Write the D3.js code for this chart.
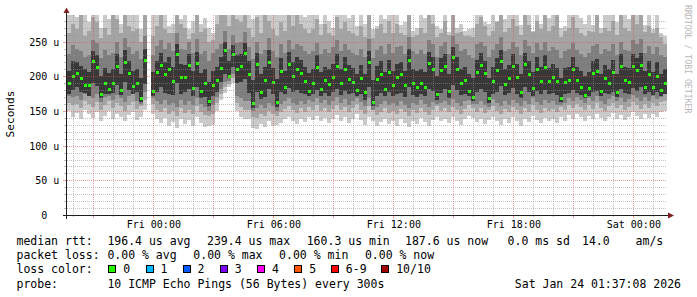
<!DOCTYPE html>
<html>
<head>
<meta charset="utf-8">
<script src="https://cdn.jsdelivr.net/npm/d3@7"></script>
<style>
  body { margin: 0; background: #fff; }
  text { font-family: "DejaVu Sans Mono", monospace; }
</style>
</head>
<body>
<svg id="chart" width="697" height="297"></svg>
<script>
// time range of the graph, one column per 12 minutes
const start = new Date(2026, 0, 22, 19, 41);
const end = new Date(2026, 0, 24, 1, 41);
const stepMin = 12;

// median rtt per column (us), null = no data
const med = [
  190,201,205,197,188,187,222,213,175,190,181,190,215,180,221,205,186,191,168,223,
  null,179,206,216,204,210,193,232,199,199,216,183,219,179,190,164,187,195,212,238,
  201,232,211,215,233,204,161,218,178,194,221,192,163,208,185,218,201,211,205,193,
  179,190,213,181,194,189,199,215,190,210,196,192,180,197,178,221,163,196,204,182,
  206,187,199,203,187,224,190,185,191,185,219,211,175,209,215,179,228,210,190,194,
  179,170,206,216,205,168,193,209,222,189,197,215,199,178,218,204,183,211,193,213,
  193,199,193,168,192,194,211,194,185,173,183,205,207,179,197,190,206,178,215,194,
  192,215,209,217,185,204,185,201,180,190
];

// smoke: sorted ping pairs, outermost (lo1/hi1) to innermost (lo4/hi4)
const lo1 = [
  150,142,147,138,152,145,140,148,136,143,150,139,146,141,135,144,149,137,142,151,
  null,145,138,132,140,128,134,126,139,131,137,129,142,133,127,128,130,150,166,176,
  184,190,150,142,138,138,126,124,131,127,135,129,130,133,138,142,136,131,139,134,
  141,137,143,135,140,132,138,144,136,141,133,139,145,137,130,142,136,128,134,139,
  131,135,129,138,133,127,136,131,140,134,128,137,142,135,139,133,141,136,130,138,
  143,140,134,139,131,137,142,135,130,138,133,141,136,129,139,134,143,137,132,140,
  135,138,133,141,136,144,139,145,141,136,143,138,146,140,135,142,147,139,144,137,
  141,148,143,138,145,140,146,142,149,150
];
const hi1 = [
  300,300,285,300,300,278,300,300,270,300,282,300,300,275,300,300,290,300,268,300,
  null,300,288,300,300,272,276,300,282,290,268,280,300,276,284,270,262,300,300,300,
  300,300,300,300,300,300,282,300,300,300,300,290,300,300,300,300,300,300,300,286,
  300,300,300,276,300,280,270,300,300,300,284,300,272,300,276,300,268,272,300,282,
  300,300,300,274,278,300,266,270,300,284,300,300,272,268,300,264,300,270,276,266,
  268,270,300,300,278,276,300,280,300,282,300,300,300,274,300,300,266,300,276,300,
  284,300,300,270,272,300,300,300,284,276,300,274,300,270,300,288,300,278,300,300,
  282,300,300,300,274,300,268,300,262,258
];
const lo2 = [
  162,158,160,155,165,160,156,163,152,158,164,155,161,157,150,159,163,153,157,166,
  null,160,152,148,155,145,150,143,154,147,152,146,157,149,144,143,146,162,174,184,
  189,197,162,156,152,152,142,140,146,143,150,145,143,148,153,157,151,147,154,149,
  156,152,158,150,155,148,153,159,151,156,148,154,160,152,146,157,151,144,149,154,
  147,150,145,153,148,143,151,147,155,149,144,152,157,150,154,148,156,151,146,153,
  158,155,149,154,147,152,157,150,146,153,148,156,151,145,154,149,158,152,147,155,
  150,153,148,156,151,159,154,160,156,151,158,153,161,155,150,157,162,154,159,152,
  156,163,158,153,160,155,161,157,163,164
];
const hi2 = [
  262,275,268,290,258,265,285,278,255,270,260,290,282,262,290,272,265,268,250,290,
  null,258,272,290,268,262,262,290,275,270,254,262,290,264,268,250,252,275,290,290,
  272,290,282,278,290,270,256,285,262,290,280,268,258,278,265,290,272,290,275,268,
  262,268,282,260,275,262,258,285,268,278,266,262,258,272,256,290,255,268,276,262,
  280,262,275,262,260,290,256,260,270,262,288,276,256,262,280,260,290,262,264,258,
  258,256,276,285,272,258,266,278,290,264,270,282,272,260,290,274,264,280,268,290,
  266,272,290,256,266,270,285,270,262,258,266,264,290,262,270,266,280,260,288,270,
  266,290,276,290,264,272,262,270,256,246
];
const lo3 = [
  172,170,172,166,174,171,168,175,163,170,172,166,173,168,163,171,174,164,160,177,
  null,168,165,160,166,158,162,156,166,159,164,158,168,160,156,150,158,170,182,192,
  193,204,172,168,165,164,150,154,158,155,162,157,150,160,164,168,162,158,165,160,
  166,163,168,161,166,159,164,170,162,167,159,165,168,163,157,168,152,156,160,165,
  158,161,157,164,159,155,162,158,166,160,156,163,160,161,165,159,167,162,157,164,
  166,160,160,165,158,156,167,161,157,164,159,166,162,157,165,160,168,163,158,166,
  161,164,159,158,162,169,165,170,166,162,168,164,171,165,160,167,172,164,169,163,
  167,173,168,164,170,165,171,167,170,174
];
const hi3 = [
  232,245,240,236,228,230,252,248,226,238,230,234,250,228,255,242,232,236,225,258,
  null,230,244,252,240,248,236,262,240,238,250,234,254,232,236,222,234,240,246,265,
  240,260,248,250,264,242,225,250,232,238,255,236,228,246,234,252,240,246,244,236,
  232,236,248,232,240,234,242,252,236,246,238,234,230,240,228,254,226,238,244,232,
  246,234,242,244,232,256,236,232,238,232,252,246,228,244,250,232,258,246,236,240,
  230,226,246,250,244,228,238,246,256,236,240,250,242,230,252,244,234,248,238,250,
  236,242,238,226,236,240,248,238,232,228,234,244,246,232,240,236,246,230,250,238,
  236,252,246,254,234,244,232,242,230,228
];
const lo4 = [
  175,180,184,178,176,172,190,186,168,174,174,176,188,173,192,180,175,177,163,189,
  null,171,178,184,176,174,173,190,175,178,182,172,185,168,170,157,172,178,192,204,
  197,214,190,192,196,176,155,178,167,170,182,174,156,177,174,183,177,180,176,174,
  171,174,180,172,176,171,177,181,173,179,175,176,172,174,166,184,157,172,176,172,
  178,172,175,176,170,185,173,170,174,171,182,179,166,176,181,169,188,180,173,175,
  171,164,177,182,178,162,174,178,186,173,176,183,175,168,184,177,172,179,174,180,
  175,176,173,163,174,176,180,176,173,168,172,178,179,171,176,174,178,170,182,176,
  175,183,179,184,174,178,173,177,172,175
];
const hi4 = [
  208,222,220,215,210,206,236,230,200,212,205,210,232,204,238,222,208,211,198,240,
  null,206,222,234,220,228,214,246,218,216,232,208,235,205,210,192,208,214,228,250,
  222,245,230,232,248,222,195,234,204,214,238,212,196,226,208,235,220,228,224,214,
  205,210,230,206,214,210,218,232,210,228,216,212,204,216,203,236,195,215,222,206,
  224,208,218,220,208,240,210,207,211,206,235,228,200,226,232,204,242,228,210,214,
  204,198,224,233,222,198,213,226,238,210,216,232,218,203,234,222,206,228,213,230,
  212,218,212,198,212,214,228,214,207,200,206,222,225,204,216,210,224,203,232,213,
  212,232,226,234,207,222,206,220,204,210
];

const yTicks = [0, 50, 100, 150, 200, 250];
const yMax = 288.4;

const rttLine = ["196.4 us avg", "239.4 us max", "160.3 us min", "187.6 us now", "0.0 ms sd", "14.0", "am/s"];
const lossLine = ["0.00 % avg", "0.00 % max", "0.00 % min", "0.00 % now"];
const lossLabels = ["0", "1", "2", "3", "4", "5", "6-9", "10/10"];
const lossColors = ["#26ff00", "#00b8ff", "#0059ff", "#7e00ff", "#ff00ff", "#ff5500", "#ff0000", "#a10000"];
const probeText = "10 ICMP Echo Pings (56 Bytes) every 300s";
const stampText = "Sat Jan 24 01:37:08 2026";

// layout
const svg = d3.select("#chart");
const x = d3.scaleTime().domain([start, end]).range([67, 667]);
const y = d3.scaleLinear().domain([0, yMax]).range([215, 15]);

svg.append("rect").attr("width", 697).attr("height", 297).attr("fill", "#fff");
svg.append("clipPath").attr("id", "clip")
  .append("rect").attr("x", 67).attr("y", 15).attr("width", 600).attr("height", 200);

const cols = med.map((m, i) => ({ i, t: d3.timeMinute.offset(start, i * stepMin) }))
  .filter(d => med[d.i] != null);
const colW = d => x(d3.timeMinute.offset(d.t, stepMin)) - x(d.t);

const plot = svg.append("g").attr("clip-path", "url(#clip)");
const layers = [
  [lo1, hi1, "#cacaca"],
  [lo2, hi2, "#a4a4a4"],
  [lo3, hi3, "#7e7e7e"],
  [lo4, hi4, "#383838"]
];
layers.forEach(([lo, hi, col]) => {
  plot.append("g").selectAll("rect").data(cols).join("rect")
    .attr("x", d => x(d.t))
    .attr("width", colW)
    .attr("y", d => y(hi[d.i]))
    .attr("height", d => y(lo[d.i]) - y(hi[d.i]))
    .attr("fill", col)
    .attr("shape-rendering", "crispEdges");
});

// median, coloured by loss (all 0 here)
plot.append("g").selectAll("rect").data(cols).join("rect")
  .attr("x", d => x(d.t) + 0.5)
  .attr("width", 3)
  .attr("y", d => Math.round(y(med[d.i])) - 1)
  .attr("height", 3)
  .attr("fill", lossColors[0])
  .attr("shape-rendering", "crispEdges");

// grid (drawn over the smoke like rrdtool)
const grid = svg.append("g").attr("fill", "none").attr("stroke-dasharray", "1,1");
const minorC = "rgba(143,143,143,0.55)", majorC = "rgba(222,79,79,0.55)";
y.ticks(29).filter(v => v > 0).forEach(v => {
  const yy = Math.round(y(v)) + 0.5;
  grid.append("line").attr("x1", 67).attr("x2", 667).attr("y1", yy).attr("y2", yy)
    .attr("stroke", v % 50 === 0 ? majorC : minorC);
});
x.ticks(d3.timeHour.every(1)).forEach(t => {
  const xx = Math.round(x(t)) + 0.5;
  const major = t.getHours() % 3 === 0;
  grid.append("line").attr("x1", xx).attr("x2", xx).attr("y1", 15).attr("y2", 215)
    .attr("stroke", major ? majorC : minorC);
  svg.append("line").attr("x1", xx).attr("x2", xx).attr("y1", 215).attr("y2", major ? 218 : 217)
    .attr("stroke", major ? majorC : minorC);
});
y.ticks(29).forEach(v => {
  const yy = Math.round(y(v)) + 0.5;
  svg.append("line").attr("x1", v % 50 === 0 ? 63 : 64).attr("x2", 66).attr("y1", yy).attr("y2", yy)
    .attr("stroke", v % 50 === 0 ? majorC : minorC);
});

// axes lines and arrows
svg.append("line").attr("x1", 63).attr("x2", 669).attr("y1", 215.5).attr("y2", 215.5)
  .attr("stroke", "#1f1f1f");
svg.append("line").attr("x1", 66.5).attr("x2", 66.5).attr("y1", 12).attr("y2", 219)
  .attr("stroke", "#1f1f1f");
svg.append("path").attr("d", "M668,212.5L674,215.5L668,218.5Z").attr("fill", "#801f1f");
svg.append("path").attr("d", "M63.5,13L66.5,7.5L69.5,13Z").attr("fill", "#801f1f");

// axis labels
const xAxis = svg.append("g").attr("transform", "translate(0,215)")
  .call(d3.axisBottom(x).ticks(d3.timeHour.every(6)).tickFormat(d3.timeFormat("%a %H:%M"))
    .tickSize(0).tickPadding(6));
xAxis.select(".domain").remove();
xAxis.selectAll("text").attr("font-family", "DejaVu Sans Mono").attr("font-size", 10).attr("fill", "#000");

const yAxis = svg.append("g").attr("transform", "translate(60,0)")
  .call(d3.axisLeft(y).tickValues(yTicks).tickFormat(v => v ? v + " u" : "0")
    .tickSize(0).tickPadding(0.7));
yAxis.select(".domain").remove();
yAxis.selectAll("text").attr("font-family", "DejaVu Sans Mono").attr("font-size", 10)
  .attr("fill", "#000").attr("dy", "0.34em")
  .filter(v => v === 0).attr("x", -12.7);

svg.append("text").attr("transform", "translate(14,114) rotate(-90)")
  .attr("text-anchor", "middle").attr("font-size", 11.2).text("Seconds");

svg.append("text").attr("transform", "translate(685,5) rotate(90)")
  .attr("font-size", 8.2).attr("fill", "#b8b8b8").text("RRDTOOL / TOBI OETIKER");

// legend
const lg = svg.append("g").attr("font-size", 11.5).attr("fill", "#000")
  .style("white-space", "pre");
const rowY = [245, 259.3, 273.3, 287.5];
const rttX = [107.4, 207, 306.7, 405, 507.6, 582, 635.6];
lg.append("text").attr("x", 16.5).attr("y", rowY[0]).text("median rtt:");
rttLine.forEach((s, i) => lg.append("text").attr("x", rttX[i]).attr("y", rowY[0]).text(s));
const lossX = [107.4, 193.3, 279.1, 364.9];
lg.append("text").attr("x", 16.5).attr("y", rowY[1]).text("packet loss:");
lossLine.forEach((s, i) => lg.append("text").attr("x", lossX[i]).attr("y", rowY[1]).text(s));
lg.append("text").attr("x", 16.5).attr("y", rowY[2]).text("loss color:");
const boxX = [108.3, 145.6, 182.6, 219.8, 257, 294.3, 330.8, 381.2];
lossLabels.forEach((s, i) => {
  lg.append("rect").attr("x", Math.round(boxX[i]) + 0.5).attr("y", Math.round(rowY[2]) - 7.5)
    .attr("width", 7).attr("height", 7)
    .attr("fill", lossColors[i]).attr("stroke", "#000").attr("shape-rendering", "crispEdges");
  lg.append("text").attr("x", boxX[i] + 15).attr("y", rowY[2]).text(s);
});
lg.append("text").attr("x", 16.5).attr("y", rowY[3]).text("probe:");
lg.append("text").attr("x", 107.4).attr("y", rowY[3]).text(probeText);
lg.append("text").attr("x", 681).attr("y", rowY[3]).attr("text-anchor", "end").text(stampText);
</script>
</body>
</html>
